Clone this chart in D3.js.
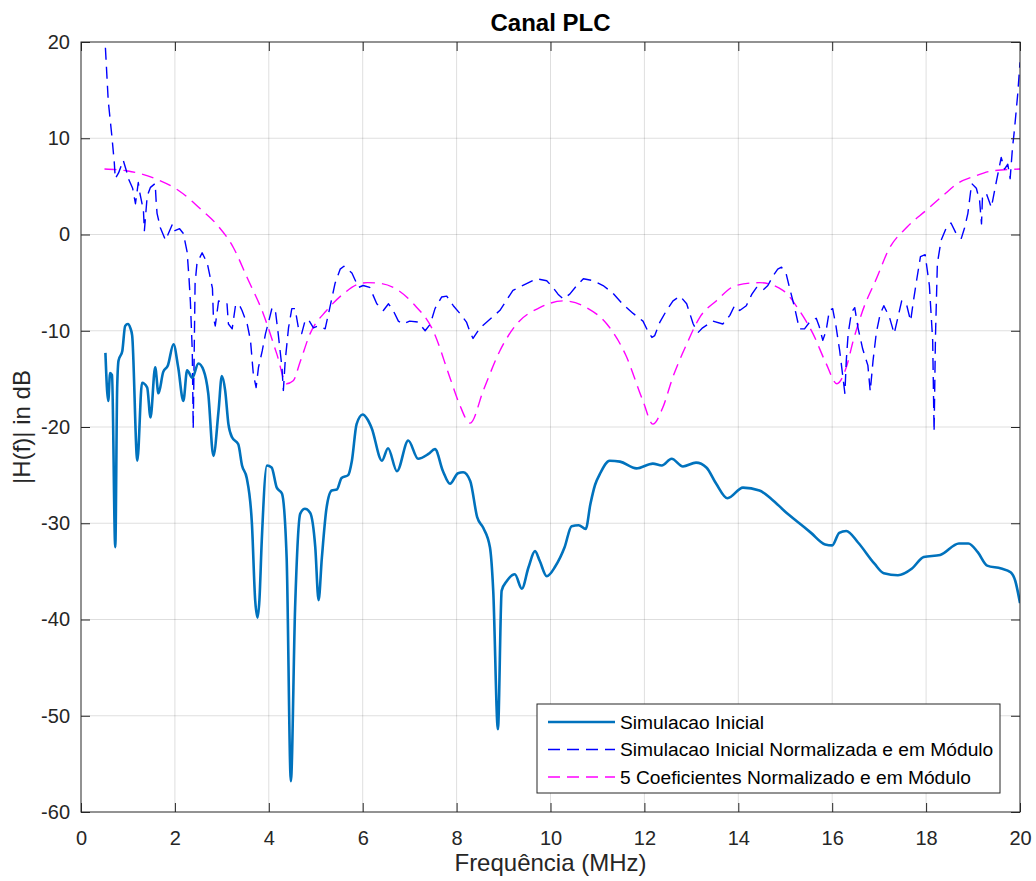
<!DOCTYPE html>
<html>
<head>
<meta charset="utf-8">
<script src="https://cdn.jsdelivr.net/npm/d3@7"></script>
<style>
  body { margin: 0; background: #fff; }
  svg { font-family: "Liberation Sans", Arial, Helvetica, sans-serif; }
</style>
</head>
<body>
<svg id="chart" width="1036" height="881"></svg>
<script>
// series: [frequency MHz, dB]
const simInicial = [
  [0.52,-12.3],[0.58,-17.3],[0.62,-14.4],[0.66,-14.6],[0.73,-32.5],[0.77,-16],[0.8,-13.1],[0.88,-12.1],
  [0.94,-9.5],[1.0,-9.3],[1.05,-9.7],[1.09,-10.5],[1.2,-23.5],[1.3,-15.4],[1.41,-15.9],[1.48,-19.0],
  [1.58,-13.8],[1.65,-16.5],[1.75,-14.3],[1.85,-13.6],[1.97,-11.4],[2.07,-13.8],[2.18,-17.3],[2.26,-14.1],
  [2.37,-14.9],[2.5,-13.4],[2.61,-14.1],[2.71,-16.5],[2.82,-23],[2.93,-18.3],[3.0,-14.7],[3.07,-16.2],
  [3.14,-19.7],[3.22,-21.1],[3.35,-21.8],[3.43,-24],[3.53,-25.3],[3.64,-30],[3.71,-38],[3.76,-39.8],
  [3.8,-38],[3.85,-31.8],[3.96,-24],[4.06,-24.2],[4.17,-26.3],[4.28,-26.9],[4.38,-33.6],[4.47,-56.8],
  [4.56,-38.8],[4.67,-29.0],[4.77,-28.5],[4.88,-28.9],[4.99,-32.5],[5.06,-38],[5.13,-33.6],[5.23,-28.4],
  [5.34,-26.6],[5.45,-26.5],[5.55,-25.3],[5.69,-25],[5.77,-23.5],[5.87,-19.7],[6.0,-18.7],[6.1,-19.2],
  [6.19,-20.1],[6.41,-23.5],[6.54,-22.2],[6.73,-24.6],[6.97,-21.4],[7.18,-23.3],[7.4,-22.8],[7.54,-22.3],
  [7.71,-24.6],[7.86,-25.9],[8.03,-24.8],[8.14,-24.7],[8.29,-25.6],[8.44,-29.4],[8.57,-30.5],[8.71,-32.5],
  [8.78,-37],[8.88,-51.4],[8.96,-37],[9.07,-36],[9.24,-35.3],[9.39,-36.8],[9.53,-34.6],[9.67,-32.9],
  [9.77,-33.9],[9.92,-35.5],[10.1,-34.5],[10.3,-32.5],[10.45,-30.3],[10.6,-30.2],[10.75,-30.6],[10.85,-28],
  [10.95,-26],[11.05,-24.9],[11.26,-23.5],[11.48,-23.6],[11.83,-24.3],[12.18,-23.8],[12.37,-24.0],[12.58,-23.3],
  [12.82,-24.1],[13.1,-23.7],[13.32,-24.2],[13.53,-25.9],[13.77,-27.4],[14.1,-26.3],[14.45,-26.6],[14.71,-27.5],
  [15.0,-28.8],[15.3,-30],[15.55,-31],[15.85,-32.2],[16.0,-32.3],[16.15,-31],[16.3,-30.8],[16.55,-32],
  [16.9,-34.2],[17.1,-35.2],[17.4,-35.4],[17.7,-34.7],[17.95,-33.5],[18.3,-33.3],[18.7,-32.1],[18.9,-32.1],
  [19.1,-33],[19.3,-34.4],[19.6,-34.7],[19.8,-35.1],[19.9,-36],[20.0,-38.3]
]

const simNormalizada = [
  [0.52,19.4],[0.58,13.9],[0.66,10.1],[0.71,7.4],[0.73,5.8],[0.8,6.4],[0.9,7.7],[0.98,6.4],[1.0,5.9],
  [1.1,4.8],[1.16,3.2],[1.22,5.4],[1.25,4.4],[1.33,2.5],[1.35,0.4],[1.41,4.0],[1.48,4.9],[1.58,5.3],
  [1.6,3.5],[1.62,2.2],[1.69,0.7],[1.8,-0.6],[1.95,1.1],[2.0,0.4],[2.1,0.6],[2.18,0.1],[2.26,-1.8],
  [2.3,-4.5],[2.33,-7],[2.37,-12.1],[2.39,-20.2],[2.43,-5.1],[2.47,-3.0],[2.58,-1.9],[2.69,-3.0],
  [2.8,-5.6],[2.82,-8.6],[2.86,-9.5],[2.93,-6.9],[3.04,-7.1],[3.11,-7.2],[3.14,-9.3],[3.22,-9.8],
  [3.29,-7.4],[3.36,-7.2],[3.43,-7.9],[3.54,-9.3],[3.61,-11],[3.67,-14.5],[3.73,-15.9],[3.78,-13.8],
  [3.86,-12.1],[3.93,-10.3],[4.0,-9.0],[4.07,-7.6],[4.14,-7.9],[4.2,-10.3],[4.28,-13.8],[4.31,-16.2],
  [4.35,-13.1],[4.42,-9.7],[4.49,-7.7],[4.56,-7.7],[4.63,-9.7],[4.7,-10.3],[4.77,-9.0],[4.84,-8.8],
  [4.95,-9.7],[5.05,-9.5],[5.2,-9.8],[5.3,-7.6],[5.41,-5.1],[5.52,-3.6],[5.6,-3.3],[5.77,-4.0],
  [5.91,-5.5],[6.01,-5.3],[6.15,-5.5],[6.3,-7.2],[6.44,-7.9],[6.55,-7.2],[6.65,-7.9],[6.76,-9.0],
  [6.86,-9.3],[7.0,-9.0],[7.18,-9.1],[7.33,-10],[7.44,-9.3],[7.54,-7.7],[7.68,-6.5],[7.79,-6.4],
  [7.93,-7.4],[8.07,-8.2],[8.21,-9.1],[8.29,-10.2],[8.35,-10.8],[8.5,-9.7],[8.71,-8.8],[8.92,-7.9],
  [9.2,-5.8],[9.49,-5.1],[9.7,-4.6],[9.92,-4.8],[10.05,-5.5],[10.16,-6.2],[10.27,-6.7],[10.41,-6.2],
  [10.56,-5.3],[10.7,-4.6],[10.91,-4.8],[11.12,-5.3],[11.33,-6.1],[11.55,-7.3],[11.76,-8.2],[11.97,-9.0],
  [12.08,-10.1],[12.16,-10.7],[12.22,-10.5],[12.33,-9.1],[12.47,-7.9],[12.61,-6.9],[12.76,-6.4],[12.9,-7.2],
  [13.04,-9.3],[13.14,-10.2],[13.24,-9.7],[13.46,-9.0],[13.67,-9.3],[13.82,-8.4],[13.92,-7.4],[14.03,-7.9],
  [14.17,-7.4],[14.29,-6.2],[14.39,-5.5],[14.52,-5.8],[14.63,-5.3],[14.74,-4.3],[14.84,-3.6],[14.92,-3.4],
  [15.02,-4.1],[15.09,-5.5],[15.2,-7.6],[15.3,-9.8],[15.41,-9.8],[15.52,-9.1],[15.66,-8.7],[15.72,-9.5],
  [15.8,-11],[15.87,-10],[15.94,-7.9],[16.01,-7.7],[16.08,-9.5],[16.16,-12.1],[16.23,-14.9],[16.27,-16.5],
  [16.3,-13.1],[16.34,-10.3],[16.41,-8.1],[16.48,-7.6],[16.55,-9.7],[16.65,-11.9],[16.76,-13.6],[16.81,-16.3],
  [16.87,-13.1],[16.94,-10.2],[17.02,-8.3],[17.1,-7.4],[17.22,-8.6],[17.32,-10.3],[17.4,-8.6],[17.48,-6.9],
  [17.58,-7.2],[17.67,-9.0],[17.73,-6.9],[17.8,-4.7],[17.88,-2.3],[17.98,-2.1],[18.07,-5.3],[18.14,-11],
  [18.17,-20.5],[18.2,-10.5],[18.24,-3.0],[18.32,-0.6],[18.43,0.7],[18.53,1.2],[18.64,0.1],[18.75,-0.4],
  [18.82,0.7],[18.89,2.2],[18.97,5.3],[19.07,4.8],[19.14,3.5],[19.18,1.1],[19.2,3.8],[19.28,4.3],
  [19.39,2.8],[19.5,5.6],[19.6,8.0],[19.67,6.8],[19.74,7.3],[19.79,5.8],[19.84,9.0],[19.88,10.8],
  [19.95,14.5],[20.0,17.9]
]

const coef5 = [
  [0.5,6.8],[1.0,6.6],[1.58,5.8],[2.07,4.6],[2.58,2.5],[2.9,1.0],[3.25,-1.4],[3.54,-4.5],[3.88,-8.2],
  [4.17,-12.4],[4.38,-15.5],[4.52,-15.2],[4.67,-13.2],[4.88,-10.3],[5.23,-7.9],[5.58,-6.2],[5.94,-5.1],
  [6.1,-5.0],[6.4,-5.1],[6.65,-5.5],[7.08,-7.2],[7.5,-10],[7.86,-14.9],[8.05,-17.5],[8.29,-19.6],
  [8.57,-16.2],[8.92,-12.1],[9.28,-9.3],[9.77,-7.6],[10.27,-6.9],[10.77,-7.6],[11.2,-9.3],[11.6,-12.5],
  [11.97,-17.3],[12.18,-19.7],[12.39,-18],[12.6,-14.9],[12.9,-11.4],[13.18,-8.6],[13.53,-6.9],[13.95,-5.3],
  [14.45,-5.0],[14.95,-5.8],[15.3,-7.9],[15.59,-10.3],[15.87,-13.4],[16.1,-15.5],[16.3,-13.8],[16.45,-11],
  [16.65,-7.9],[16.95,-4.5],[17.2,-1.6],[17.6,0.8],[18.0,2.5],[18.35,4.0],[18.7,5.4],[19.0,6.0],
  [19.4,6.6],[20,6.8]
]

const xTicks = [0, 2, 4, 6, 8, 10, 12, 14, 16, 18, 20]
const yTicks = [-60, -50, -40, -30, -20, -10, 0, 10, 20]
const legendNames = [
  'Simulacao Inicial',
  'Simulacao Inicial Normalizada e em Módulo',
  '5 Coeficientes Normalizado e em Módulo'
]

const plotLeft = 81, plotRight = 1020, plotTop = 42, plotBottom = 812
const axisColor = '#262626'
const tickFont = 20

const svg = d3.select('#chart')
const x = d3.scaleLinear().domain([0, 20]).range([plotLeft, plotRight])
const y = d3.scaleLinear().domain([-60, 20]).range([plotBottom, plotTop])

// grid
const grid = svg.append('g').attr('stroke', '#000').attr('stroke-opacity', 0.13).attr('stroke-width', 1)
grid.selectAll('.gx').data(xTicks.slice(1, -1)).enter().append('line')
  .attr('x1', d => x(d)).attr('x2', d => x(d)).attr('y1', plotTop).attr('y2', plotBottom)
grid.selectAll('.gy').data(yTicks.slice(1, -1)).enter().append('line')
  .attr('x1', plotLeft).attr('x2', plotRight).attr('y1', d => y(d)).attr('y2', d => y(d))

// series
svg.append('clipPath').attr('id', 'clip').append('rect')
  .attr('x', plotLeft).attr('y', plotTop).attr('width', plotRight - plotLeft).attr('height', plotBottom - plotTop)
const plot = svg.append('g').attr('clip-path', 'url(#clip)')

const smooth = d3.line().x(d => x(d[0])).y(d => y(d[1])).curve(d3.curveMonotoneX)
const straight = d3.line().x(d => x(d[0])).y(d => y(d[1]))

plot.append('path').datum(coef5).attr('d', smooth)
  .attr('fill', 'none').attr('stroke', '#FF00FF').attr('stroke-width', 1.4).attr('stroke-dasharray', '12,7')
plot.append('path').datum(simNormalizada).attr('d', straight)
  .attr('fill', 'none').attr('stroke', '#0000FF').attr('stroke-width', 1.4).attr('stroke-dasharray', '12,7')
  .attr('stroke-linejoin', 'round')
plot.append('path').datum(simInicial).attr('d', smooth)
  .attr('fill', 'none').attr('stroke', '#0072BD').attr('stroke-width', 2.6).attr('stroke-linejoin', 'round')

// axes
const plain = d => String(d)
function style_axis(g) {
  g.select('.domain').remove()
  g.selectAll('line').attr('stroke', axisColor)
  g.selectAll('text').attr('fill', axisColor).attr('font-size', tickFont)
}
svg.append('g').attr('transform', `translate(0,${plotBottom})`)
  .call(d3.axisBottom(x).tickValues(xTicks).tickFormat(plain).tickSize(-9).tickPadding(19)).call(style_axis)
svg.append('g').attr('transform', `translate(0,${plotTop})`)
  .call(d3.axisTop(x).tickValues(xTicks).tickSize(-9).tickFormat('')).call(style_axis)
svg.append('g').attr('transform', `translate(${plotLeft},0)`)
  .call(d3.axisLeft(y).tickValues(yTicks).tickFormat(plain).tickSize(-9).tickPadding(11)).call(style_axis)
svg.append('g').attr('transform', `translate(${plotRight},0)`)
  .call(d3.axisRight(y).tickValues(yTicks).tickSize(-9).tickFormat('')).call(style_axis)

svg.append('rect').attr('x', plotLeft).attr('y', plotTop)
  .attr('width', plotRight - plotLeft).attr('height', plotBottom - plotTop)
  .attr('fill', 'none').attr('stroke', axisColor).attr('stroke-width', 1)

// labels
svg.append('text').attr('x', (plotLeft + plotRight) / 2).attr('y', 31).attr('text-anchor', 'middle')
  .attr('font-size', 24).attr('font-weight', 'bold').attr('fill', '#000').text('Canal PLC')
svg.append('text').attr('x', (plotLeft + plotRight) / 2).attr('y', 871).attr('text-anchor', 'middle')
  .attr('font-size', 24).attr('fill', axisColor).text('Frequência (MHz)')
svg.append('text').attr('transform', `translate(30,${(plotTop + plotBottom) / 2}) rotate(-90)`)
  .attr('text-anchor', 'middle').attr('font-size', 24).attr('fill', axisColor).text('|H(f)| in dB')

// legend
const legend = svg.append('g')
legend.append('rect').attr('x', 537).attr('y', 704).attr('width', 463).attr('height', 89)
  .attr('fill', '#fff').attr('stroke', axisColor).attr('stroke-width', 1)
const legendStyles = [
  { color: '#0072BD', width: 2.6, dash: null },
  { color: '#0000FF', width: 1.4, dash: '12,7' },
  { color: '#FF00FF', width: 1.4, dash: '12,7' }
]
legendNames.forEach((name, i) => {
  const ly = 722 + i * 27.5
  const st = legendStyles[i]
  legend.append('line').attr('x1', 548).attr('x2', 615).attr('y1', ly).attr('y2', ly)
    .attr('stroke', st.color).attr('stroke-width', st.width).attr('stroke-dasharray', st.dash)
  legend.append('text').attr('x', 620).attr('y', ly).attr('dy', '0.35em')
    .attr('font-size', 19.2).attr('fill', '#000').text(name)
})
</script>
</body>
</html>
